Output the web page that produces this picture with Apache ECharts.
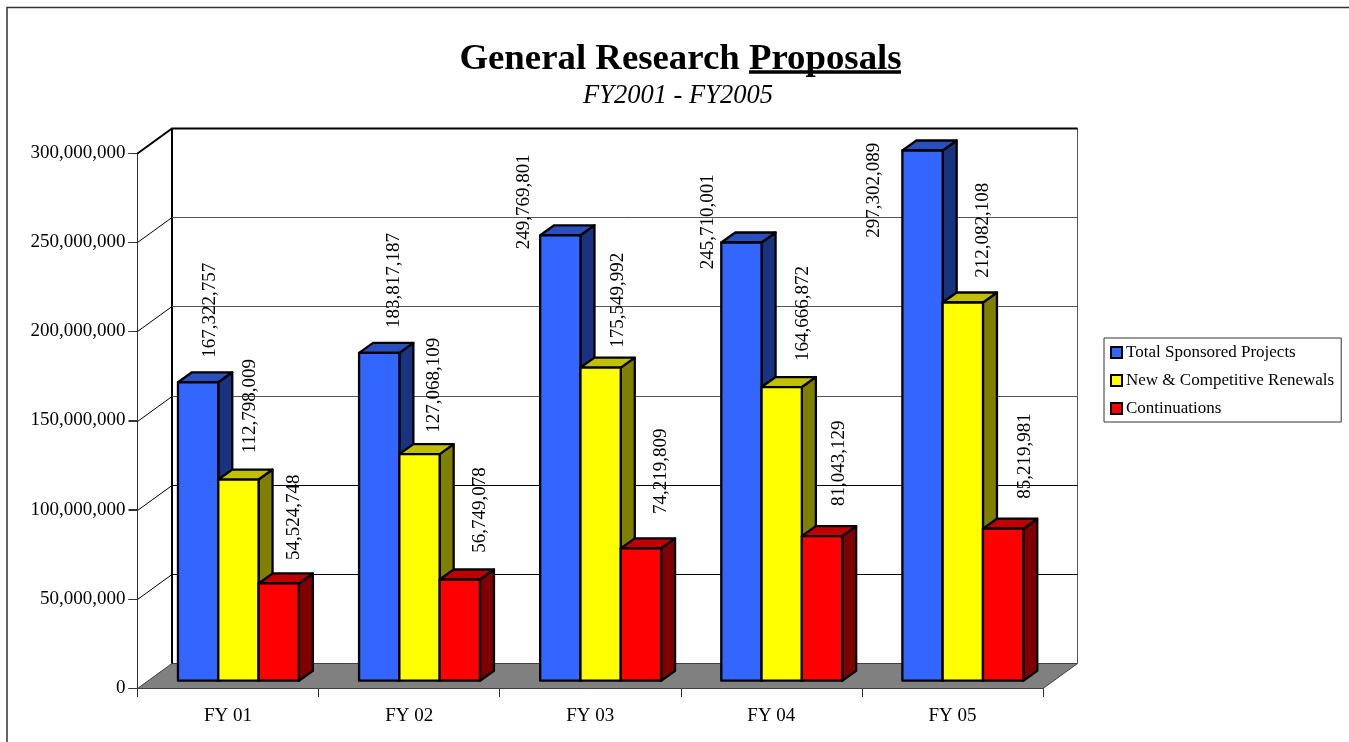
<!DOCTYPE html>
<html>
<head>
<meta charset="utf-8">
<title>General Research Proposals</title>
<script src="https://cdn.jsdelivr.net/npm/echarts@6/dist/echarts.min.js"></script>
<style>
html, body { margin: 0; padding: 0; background: #fff; }
#main { width: 1349px; height: 742px; }
</style>
</head>
<body>
<div id="main"></div>
<script>
var categories = ['FY 01', 'FY 02', 'FY 03', 'FY 04', 'FY 05'];
var totalProjects = [167322757, 183817187, 249769801, 245710001, 297302089];
var newRenewals = [112798009, 127068109, 175549992, 164666872, 212082108];
var continuations = [54524748, 56749078, 74219809, 81043129, 85219981];
var yTicks = [0, 50000000, 100000000, 150000000, 200000000, 250000000, 300000000];

var font = '"Liberation Serif", "Times New Roman", serif';

// 立体效果的偏移量
var wallDx = 34.5, wallDy = -25;
var barDx = 14, barDy = -10;
var baseShift = 7.3; // 柱子底部离前沿的距离

// 数值标签相对柱顶右角的偏移 [x, y]
var nudgeTotal = [[-8.5, -24.6], [-5.4, -24.9], [-56.7, 14], [-53.1, 26.8], [-68.2, 87.2]];
var nudgeNew = [[-8.1, -26.2], [-5.9, -21.4], [-3, -19.9], [0.9, -26], [-0.2, -24.8]];
var nudgeCont = [[-5.1, -23.5], [0, -26.8], [0.4, -34.3], [-3.2, -30.2], [2.2, -30]];

function fmt(v) {
	return Number(v).toLocaleString('en-US');
}

function line(pts, color, width) {
	return {
		type: 'polyline',
		silent: true,
		shape: { points: pts },
		style: { fill: null, stroke: color, lineWidth: width }
	};
}

// 背景墙、网格线、地板
function renderWall(params, api) {
	var v = api.value(0);
	var cs = params.coordSys;
	var y = Math.round(api.coord([0, v])[1]) + 0.5;
	var x0 = cs.x, x1 = cs.x + cs.width;
	var children = [line([[x0 - 9, y], [x0, y]], '#333', 1)];
	if (v === 0) {
		children.push({
			type: 'polygon',
			silent: true,
			shape: { points: [[x0, y], [x0 + wallDx, y + wallDy], [x1 + wallDx, y + wallDy], [x1, y]] },
			style: { fill: '#808080', stroke: '#404040', lineWidth: 1 }
		});
		children.push(line([[x0 + wallDx, y + wallDy], [x0 + wallDx, cs.y + wallDy]], '#000', 2));
		children.push(line([[x1 + wallDx, y + wallDy], [x1 + wallDx, cs.y + wallDy]], '#555', 1));
	} else if (v === yTicks[yTicks.length - 1]) {
		children.push(line([[x0, y], [x0 + wallDx, y + wallDy], [x1 + wallDx, y + wallDy]], '#000', 2));
	} else {
		children.push(line([[x0, y], [x0 + wallDx, y + wallDy]], '#000', 1));
		// 下面两条线颜色更深
		children.push(line([[x0 + wallDx, y + wallDy], [x1 + wallDx, y + wallDy]], v <= 100000000 ? '#000' : '#555', 1));
	}
	return { type: 'group', children: children };
}

function makeBar(index, colors, nudge) {
	return function (params, api) {
		var cat = api.value(0);
		var val = api.value(1);
		var band = api.size([1, 0])[0];
		var w = band * 0.2225;
		var zero = api.coord([cat, 0]);
		var top = api.coord([cat, val]);
		var left = zero[0] - band / 2 + band * 0.2235 + index * w;
		var right = left + w;
		var by = zero[1] - baseShift;
		var ty = top[1] - baseShift;
		var edge = { stroke: '#000', lineWidth: 2.3, lineJoin: 'round' };
		var n = nudge[params.dataIndex];
		return {
			type: 'group',
			children: [{
				type: 'polygon',
				shape: { points: [[right, ty], [right + barDx, ty + barDy], [right + barDx, by + barDy], [right, by]] },
				style: Object.assign({ fill: colors[2] }, edge)
			}, {
				type: 'polygon',
				shape: { points: [[left, ty], [left + barDx, ty + barDy], [right + barDx, ty + barDy], [right, ty]] },
				style: Object.assign({ fill: colors[1] }, edge)
			}, {
				type: 'rect',
				shape: { x: left, y: ty, width: w, height: by - ty },
				style: Object.assign({ fill: colors[0] }, edge)
			}, {
				type: 'text',
				x: right + n[0],
				y: ty + n[1],
				rotation: Math.PI / 2,
				z2: 50,
				style: {
					text: fmt(val),
					fill: '#000',
					font: '19px ' + font,
					align: 'left',
					verticalAlign: 'middle'
				}
			}]
		};
	};
}

function barSeries(name, values, index, colors, nudge) {
	return {
		name: name,
		type: 'custom',
		clip: false,
		encode: { x: 0, y: 1 },
		itemStyle: { color: colors[0], borderColor: '#000', borderWidth: 2 },
		renderItem: makeBar(index, colors, nudge),
		data: values.map(function (v, i) { return [i, v]; })
	};
}

var myChart = echarts.init(document.getElementById('main'), null, { renderer: 'canvas' });

var option = {
	animation: false,
	backgroundColor: '#fff',
	title: [{
		text: 'General Research Proposals',
		left: 675.5,
		top: 36,
		textAlign: 'center',
		textStyle: { fontFamily: font, fontSize: 36.8, fontWeight: 'bold', color: '#000' }
	}, {
		text: 'FY2001 - FY2005',
		left: 673,
		top: 78,
		textAlign: 'center',
		textStyle: { fontFamily: font, fontSize: 26.5, fontStyle: 'italic', fontWeight: 'normal', color: '#000' }
	}],
	legend: {
		orient: 'vertical',
		left: 1104,
		top: 338,
		padding: [6, 7, 5, 6],
		itemGap: 11,
		itemWidth: 11,
		itemHeight: 11,
		selectedMode: false,
		backgroundColor: '#fff',
		borderColor: '#333',
		borderWidth: 1,
		borderRadius: 0,
		icon: 'rect',
		textStyle: { fontFamily: font, fontSize: 17, color: '#000', padding: [0, 0, 0, -1] },
		data: ['Total Sponsored Projects', 'New & Competitive Renewals', 'Continuations']
	},
	grid: { left: 137.5, right: 306, top: 153, bottom: 54, containLabel: false },
	xAxis: {
		type: 'category',
		data: categories,
		axisLine: { show: true, lineStyle: { color: '#333', width: 1 } },
		axisTick: { show: true, length: 9, alignWithLabel: false, lineStyle: { color: '#333', width: 1 } },
		axisLabel: { margin: 19, fontFamily: font, fontSize: 19, color: '#000' }
	},
	yAxis: {
		type: 'value',
		min: 0,
		max: 300000000,
		interval: 50000000,
		splitLine: { show: false },
		axisLine: { show: true, lineStyle: { color: '#333', width: 1 } },
		axisTick: { show: true, length: 9, lineStyle: { color: '#333', width: 1 } },
		axisLabel: { margin: 12, fontFamily: font, fontSize: 19, color: '#000', formatter: fmt }
	},
	graphic: [{
		type: 'polyline',
		silent: true,
		z: -1,
		shape: { points: [[7, 742], [7, 7.5], [1349, 7.5]] },
		style: { fill: null, stroke: '#333', lineWidth: 1.5 }
	}, {
		type: 'line',
		silent: true,
		shape: { x1: 749, y1: 72, x2: 901, y2: 72 },
		style: { stroke: '#000', lineWidth: 3.5 }
	}],
	series: [{
		name: 'wall',
		type: 'custom',
		clip: false,
		silent: true,
		z: 1,
		encode: { y: 0 },
		renderItem: renderWall,
		data: yTicks.map(function (v) { return [v]; })
	},
	barSeries('Total Sponsored Projects', totalProjects, 0, ['#3366ff', '#2a50bf', '#1a3380'], nudgeTotal),
	barSeries('New & Competitive Renewals', newRenewals, 1, ['#ffff00', '#c0c000', '#808000'], nudgeNew),
	barSeries('Continuations', continuations, 2, ['#ff0000', '#c00000', '#800000'], nudgeCont)
	]
};

myChart.setOption(option);
</script>
</body>
</html>
